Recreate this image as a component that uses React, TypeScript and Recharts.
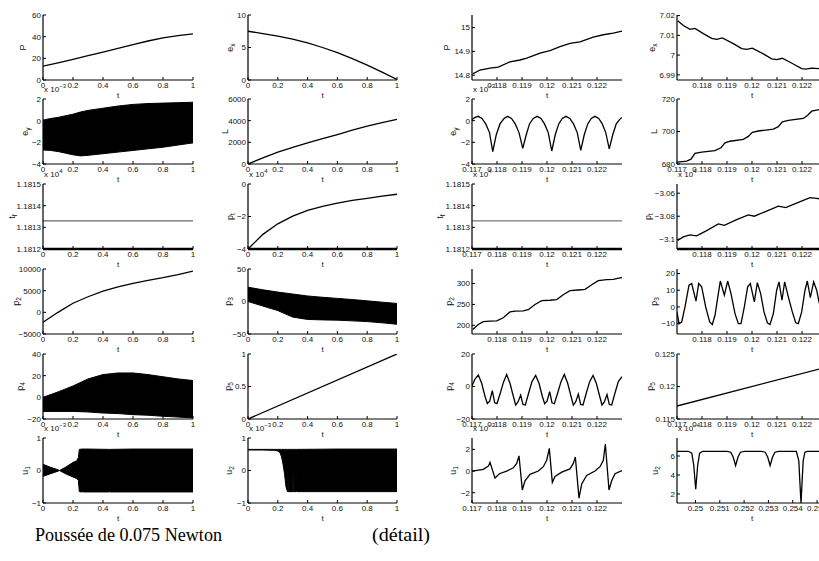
import React from "react";
import { ComposedChart, Line, Area, XAxis, YAxis } from "recharts";

const FONT = '"Liberation Sans", Arial, Helvetica, sans-serif';

// ---------- full run, t from 0 to 1 ----------
const tFull = [0, 0.1, 0.2, 0.3, 0.4, 0.5, 0.6, 0.7, 0.8, 0.9, 1];
const tEnds = [0, 1];
const ticksFull = [0, 0.2, 0.4, 0.6, 0.8, 1];

const pFull = [12.8, 15.8, 19, 22.4, 25.8, 29.3, 32.7, 36, 38.8, 41, 42.5];
const exFull = [7.5, 7.15, 6.75, 6.3, 5.7, 5.0, 4.2, 3.3, 2.3, 1.2, 0.1];
const lFull = [0, 560, 1090, 1530, 1940, 2340, 2720, 3120, 3500, 3820, 4120];
const tfFull = [1.18133, 1.18133];
const ptFull = [-4, -3.1, -2.45, -1.98, -1.63, -1.38, -1.18, -1.01, -0.88, -0.74, -0.63];
const p2Full = [-2300, 0, 2100, 3600, 4900, 5900, 6700, 7400, 8000, 8700, 9500];
const p5Full = [0, 1];

// envelopes (lower / upper) of the fast oscillations
const eyT = [0, 0.05, 0.1, 0.15, 0.2, 0.25, 0.3, 0.4, 0.5, 0.6, 0.7, 0.8, 0.9, 1];
const eyHi = [0.05, 0.2, 0.3, 0.45, 0.6, 0.8, 0.95, 1.15, 1.35, 1.5, 1.58, 1.62, 1.66, 1.7];
const eyLo = [-2.7, -2.75, -2.85, -3.0, -3.15, -3.25, -3.2, -3.05, -2.9, -2.75, -2.6, -2.45, -2.25, -2.05];

const p4Hi = [0, 5, 10.5, 17, 21, 22.5, 22.5, 21, 19, 17, 15.5];
const p4Lo = [-13, -13, -13, -13.5, -14.5, -15, -16, -16.5, -17.5, -18.2, -19];

const p3Hi = [22, 18, 14.5, 11.5, 8.5, 6.5, 4.8, 3, 1, -1, -3];
const p3Lo = [0, -7, -14, -24, -27.6, -28.3, -28.7, -29.8, -30.9, -32.8, -35];

const u1T = [0, 0.05, 0.1, 0.11, 0.15, 0.2, 0.225, 0.236, 0.242, 0.26, 0.262, 0.264, 0.3, 0.44, 0.442, 0.444, 0.6, 0.8, 1];
const u1Hi = [0.19, 0.1, 0.02, 0, 0.1, 0.25, 0.3, 0.4, 0.65, 0.66, 0.66, 0.66, 0.66, 0.65, 0.65, 0.65, 0.66, 0.66, 0.66];
const u1Lo = [-0.18, -0.1, -0.02, 0, -0.1, -0.2, -0.25, -0.3, -0.65, -0.66, -0.5, -0.66, -0.66, -0.66, -0.45, -0.66, -0.66, -0.66, -0.66];

const u2T = [0, 0.1, 0.18, 0.2, 0.215, 0.225, 0.235, 0.245, 0.255, 0.265, 0.266, 0.268, 0.27, 0.3, 0.302, 0.304, 0.322, 0.324, 0.326, 0.6, 1];
const u2Hi = [0.65, 0.65, 0.65, 0.65, 0.65, 0.65, 0.65, 0.65, 0.65, 0.65, 0.65, 0.65, 0.65, 0.65, 0.65, 0.65, 0.65, 0.65, 0.65, 0.66, 0.66];
const u2Lo = [0.63, 0.63, 0.62, 0.6, 0.55, 0.42, 0.2, -0.1, -0.5, -0.65, -0.65, 0.05, -0.65, -0.65, 0.05, -0.65, -0.65, 0.05, -0.65, -0.65, -0.65];

// ---------- detail, t from 0.117 to 0.123 ----------
const dDom: [number, number] = [0.117, 0.123];
const dEnds = [0.117, 0.123];
const ticksDA = [0.117, 0.118, 0.119, 0.12, 0.121, 0.122];
const ticksDB = [0.118, 0.119, 0.12, 0.121, 0.122];

const pDetT = [0.11703, 0.11732, 0.11772, 0.11805, 0.11852, 0.11892, 0.11919, 0.11972, 0.12012, 0.12052, 0.12092, 0.12132, 0.12185, 0.12225, 0.12265, 0.123];
const pDetV = [14.806, 14.822, 14.83, 14.834, 14.856, 14.864, 14.872, 14.893, 14.903, 14.92, 14.934, 14.94, 14.96, 14.97, 14.977, 14.985];

const eyDetT = [0.117, 0.11712, 0.11725, 0.1174, 0.11755, 0.1177, 0.11783, 0.11797, 0.11812, 0.11828, 0.11843, 0.11858, 0.11873, 0.11888, 0.11903, 0.11917, 0.1193, 0.11945, 0.11961, 0.11976, 0.1199, 0.12005, 0.12019, 0.12033, 0.12047, 0.12061, 0.12076, 0.12091, 0.12106, 0.12121, 0.12135, 0.12149, 0.12163, 0.12177, 0.12192, 0.12207, 0.12221, 0.12235, 0.12249, 0.12263, 0.12277, 0.1229, 0.123];
const eyDetV = [0.1, 0.3, 0.4, 0.2, -0.3, -1.1, -2.85, -1.3, -0.3, 0.2, 0.4, 0.2, -0.3, -1.1, -2.55, -1.3, -0.3, 0.2, 0.4, 0.2, -0.3, -1.1, -2.8, -1.3, -0.3, 0.2, 0.4, 0.2, -0.3, -1.1, -2.75, -1.3, -0.3, 0.2, 0.4, 0.2, -0.3, -1.1, -2.6, -1.3, -0.3, 0.1, 0.3];

const tfDet = [1.18133, 1.18133];

const p2DetT = [0.11703, 0.11725, 0.11745, 0.11772, 0.11799, 0.11825, 0.11852, 0.11872, 0.11905, 0.11925, 0.11952, 0.11979, 0.12012, 0.12039, 0.12065, 0.12092, 0.12125, 0.12152, 0.12179, 0.12205, 0.12239, 0.12265, 0.12292, 0.123];
const p2DetV = [190, 202, 209, 210, 210.5, 218, 232, 234, 234.5, 237.5, 250, 259, 260, 261.5, 273, 283, 284.5, 286, 297, 307, 309.5, 310, 313.5, 314];

const p4DetT = [0.117, 0.11712, 0.117253, 0.117387, 0.11752, 0.117613, 0.117707, 0.117813, 0.117907, 0.118, 0.118133, 0.118267, 0.118387, 0.11852, 0.118653, 0.118747, 0.11884, 0.118947, 0.11904, 0.119133, 0.119267, 0.1194, 0.119547, 0.11968, 0.119813, 0.119907, 0.12, 0.120107, 0.1202, 0.120293, 0.120427, 0.12056, 0.120693, 0.120827, 0.12096, 0.121053, 0.121147, 0.121253, 0.121347, 0.12144, 0.121573, 0.121707, 0.12184, 0.121973, 0.122107, 0.1222, 0.122293, 0.1224, 0.122493, 0.122587, 0.12272, 0.122853, 0.123];
const p4DetV = [0.5, 4.5, 7, 2, -6, -10.5, -9, -2.5, -10, -10.5, -4, 3, 7.4, 2, -6, -11.4, -9.5, -5.3, -11, -11.4, -4, 3, 6.8, 2, -6, -10.6, -9, -3.2, -10, -10.6, -4, 3, 7.4, 2, -6, -11.4, -9.5, -4.7, -11, -11.4, -4, 3, 6.8, 2, -6, -11.4, -9.5, -5, -11, -11.4, -4, 3, 6];

const u1DetT = [0.117, 0.117453, 0.117653, 0.11772, 0.11792, 0.118093, 0.118387, 0.118653, 0.118787, 0.11888, 0.119013, 0.11912, 0.11932, 0.119653, 0.119853, 0.119987, 0.120093, 0.120213, 0.12032, 0.120587, 0.12092, 0.121053, 0.121133, 0.12128, 0.121387, 0.121587, 0.12192, 0.12212, 0.122253, 0.122333, 0.12248, 0.122587, 0.12272, 0.123];
const u1DetV = [0, 0.15, 0.45, 0.8, -0.65, -0.25, 0, 0.3, 0.7, 1.4, -1.75, -0.9, -0.3, 0, 0.4, 1, 2.1, -1.05, -0.5, -0.1, 0.2, 0.7, 1.3, -2.5, -1.2, -0.4, 0, 0.4, 1, 2.5, -1.75, -0.9, -0.25, 0.05];

const exDetT = [0.117027, 0.117253, 0.11752, 0.11772, 0.118053, 0.118387, 0.118587, 0.118813, 0.119253, 0.119587, 0.119787, 0.120013, 0.120453, 0.120787, 0.120987, 0.121213, 0.121653, 0.121987, 0.122147, 0.122387, 0.12268, 0.123];
const exDetV = [7.0174, 7.015, 7.013, 7.0135, 7.0109, 7.0085, 7.008, 7.0087, 7.0058, 7.0033, 7.0029, 7.0035, 7.0006, 6.9981, 6.9977, 6.9984, 6.9955, 6.9932, 6.9929, 6.9934, 6.9932, 6.9926];

const lDetT = [0.117027, 0.117387, 0.11756, 0.11772, 0.117987, 0.11852, 0.11876, 0.11892, 0.11912, 0.119653, 0.119853, 0.120013, 0.120253, 0.120853, 0.121053, 0.121213, 0.121453, 0.122053, 0.122227, 0.122387, 0.12268, 0.123];
const lDetV = [681.2, 681.8, 683, 686.5, 687.3, 688.2, 690, 693, 694, 695.2, 697, 699.5, 700.3, 701.5, 703, 706, 706.8, 708, 710, 712.5, 713.5, 714.5];

const ptDetT = [0.117027, 0.117253, 0.11752, 0.117787, 0.118187, 0.118653, 0.118893, 0.119387, 0.119853, 0.120093, 0.120587, 0.121053, 0.121347, 0.121853, 0.12232, 0.122587, 0.123];
const ptDetV = [-3.101, -3.098, -3.0962, -3.097, -3.0925, -3.0867, -3.088, -3.083, -3.0788, -3.08, -3.0755, -3.0713, -3.0725, -3.068, -3.0638, -3.0645, -3.066];

const p3DetT = [0.117, 0.11708, 0.117187, 0.11732, 0.11748, 0.117587, 0.11776, 0.117867, 0.117987, 0.118147, 0.118307, 0.118413, 0.11852, 0.118653, 0.118733, 0.118893, 0.119027, 0.11916, 0.11932, 0.119453, 0.11956, 0.119693, 0.119827, 0.119933, 0.120093, 0.120213, 0.120347, 0.12048, 0.120613, 0.12072, 0.120853, 0.120987, 0.12108, 0.1212, 0.121307, 0.121453, 0.121613, 0.121747, 0.121853, 0.121987, 0.12212, 0.122213, 0.122333, 0.122467, 0.122587, 0.12268, 0.122853, 0.123];
const p3DetV = [-3, -10, -9, 0, 13, 14, 3.5, 14, 12, 0, -9, -10.5, -5, 8, 15.5, 7, 15.5, 8, -4, -10, -10, 0, 12, 14, 3, 14.5, 8, -3, -9.5, -10.5, -4, 10, 15, 4, 15, 6, -3, -9.5, -10, -3, 10, 15.5, 5.5, 15, 10, 3, -5, -9];

const p5Det = [0.117, 0.123];

// u2 detail uses its own window
const u2DetDom: [number, number] = [0.24924, 0.25541];
const u2DetTicks = [0.25, 0.251, 0.252, 0.253, 0.254, 0.255];
const u2DetT = [0.24924, 0.2497, 0.24985, 0.24993, 0.25001, 0.25009, 0.25017, 0.2503, 0.2513, 0.25145, 0.25155, 0.25165, 0.25175, 0.25185, 0.252, 0.25272, 0.25287, 0.25297, 0.25307, 0.25317, 0.25327, 0.25342, 0.25415, 0.25425, 0.2543, 0.25434, 0.25438, 0.25443, 0.2545, 0.2546, 0.25541];
const u2DetV = [6.5, 6.5, 6.3, 5.0, 2.5, 5.0, 6.3, 6.5, 6.5, 6.4, 5.9, 5.0, 5.9, 6.4, 6.5, 6.5, 6.4, 5.9, 5.0, 5.9, 6.4, 6.5, 6.5, 5.5, 3.0, 1.05, 3.0, 5.5, 6.4, 6.5, 6.5];

// ---------- layout ----------
const COL_X = [43, 248, 472, 677];
const COL_W = [150, 149, 150, 150];
const ROW_Y = [15, 99, 184, 269, 354, 438];
const PH = 65;
const ML = 40;
const MT = 18;
const MR = 3;
const MB = 28;

type PanelDef = {
  col: number;
  row: number;
  xDomain: [number, number];
  xTicks: number[];
  yDomain: [number, number];
  yTicks: number[];
  name: string;
  sub?: string;
  dx: number;
  exp?: string;
  t: number[];
  v?: number[];
  lo?: number[];
  hi?: number[];
  color?: string;
};

const full: [number, number] = [0, 1];

const panels: PanelDef[] = [
  // column 1
  { col: 0, row: 0, xDomain: full, xTicks: ticksFull, yDomain: [0, 60], yTicks: [0, 20, 40, 60], name: "P", dx: -20, t: tFull, v: pFull },
  { col: 0, row: 1, xDomain: full, xTicks: ticksFull, yDomain: [-4, 2], yTicks: [-4, -2, 0, 2], name: "e", sub: "y", dx: -18, exp: "\u22123", t: eyT, lo: eyLo, hi: eyHi },
  { col: 0, row: 2, xDomain: full, xTicks: ticksFull, yDomain: [1.1812, 1.1815], yTicks: [1.1812, 1.1813, 1.1814, 1.1815], name: "t", sub: "f", dx: -31, exp: "4", t: tEnds, v: tfFull, color: "#666" },
  { col: 0, row: 3, xDomain: full, xTicks: ticksFull, yDomain: [-5000, 10000], yTicks: [-5000, 0, 5000, 10000], name: "p", sub: "2", dx: -27, t: tFull, v: p2Full },
  { col: 0, row: 4, xDomain: full, xTicks: ticksFull, yDomain: [-20, 40], yTicks: [-20, 0, 20, 40], name: "p", sub: "4", dx: -23, t: tFull, lo: p4Lo, hi: p4Hi },
  { col: 0, row: 5, xDomain: full, xTicks: ticksFull, yDomain: [-1, 1], yTicks: [-1, 0, 1], name: "u", sub: "1", dx: -18, exp: "\u22123", t: u1T, lo: u1Lo, hi: u1Hi },
  // column 2
  { col: 1, row: 0, xDomain: full, xTicks: ticksFull, yDomain: [0, 10], yTicks: [0, 5, 10], name: "e", sub: "x", dx: -18, t: tFull, v: exFull },
  { col: 1, row: 1, xDomain: full, xTicks: ticksFull, yDomain: [0, 6000], yTicks: [0, 2000, 4000, 6000], name: "L", dx: -23, t: tFull, v: lFull },
  { col: 1, row: 2, xDomain: full, xTicks: ticksFull, yDomain: [-4, 0], yTicks: [-4, -2, 0], name: "p", sub: "t", dx: -18, exp: "4", t: tFull, v: ptFull },
  { col: 1, row: 3, xDomain: full, xTicks: ticksFull, yDomain: [-50, 50], yTicks: [-50, 0, 50], name: "p", sub: "3", dx: -20, t: tFull, lo: p3Lo, hi: p3Hi },
  { col: 1, row: 4, xDomain: full, xTicks: ticksFull, yDomain: [0, 1], yTicks: [0, 0.5, 1], name: "p", sub: "5", dx: -20, t: tEnds, v: p5Full },
  { col: 1, row: 5, xDomain: full, xTicks: ticksFull, yDomain: [-1, 1], yTicks: [-1, 0, 1], name: "u", sub: "2", dx: -19, exp: "\u22123", t: u2T, lo: u2Lo, hi: u2Hi },
  // column 3 (detail)
  { col: 2, row: 0, xDomain: dDom, xTicks: ticksDB, yDomain: [14.78, 15.053], yTicks: [14.8, 14.9, 15], name: "P", dx: -25, t: pDetT, v: pDetV },
  { col: 2, row: 1, xDomain: dDom, xTicks: ticksDA, yDomain: [-4, 2], yTicks: [-4, -2, 0, 2], name: "e", sub: "y", dx: -19, exp: "\u22123", t: eyDetT, v: eyDetV },
  { col: 2, row: 2, xDomain: dDom, xTicks: ticksDA, yDomain: [1.1812, 1.1815], yTicks: [1.1812, 1.1813, 1.1814, 1.1815], name: "t", sub: "f", dx: -32, exp: "4", t: dEnds, v: tfDet, color: "#777" },
  { col: 2, row: 3, xDomain: dDom, xTicks: ticksDB, yDomain: [179.3, 334.7], yTicks: [200, 250, 300], name: "p", sub: "2", dx: -23, t: p2DetT, v: p2DetV },
  { col: 2, row: 4, xDomain: dDom, xTicks: ticksDA, yDomain: [-20, 20], yTicks: [-20, 0, 20], name: "p", sub: "4", dx: -23, t: p4DetT, v: p4DetV },
  { col: 2, row: 5, xDomain: dDom, xTicks: ticksDA, yDomain: [-2.95, 3.05], yTicks: [-2, 0, 2], name: "u", sub: "1", dx: -19, exp: "\u22123", t: u1DetT, v: u1DetV },
  // column 4 (detail)
  { col: 3, row: 0, xDomain: dDom, xTicks: ticksDB, yDomain: [6.9874, 7.0203], yTicks: [6.99, 7, 7.01, 7.02], name: "e", sub: "x", dx: -25, t: exDetT, v: exDetV },
  { col: 3, row: 1, xDomain: dDom, xTicks: ticksDA, yDomain: [680, 720], yTicks: [680, 700, 720], name: "L", dx: -23, t: lDetT, v: lDetV },
  { col: 3, row: 2, xDomain: dDom, xTicks: ticksDB, yDomain: [-3.1085, -3.052], yTicks: [-3.1, -3.08, -3.06], name: "p", sub: "t", dx: -29, exp: "4", t: ptDetT, v: ptDetV },
  { col: 3, row: 3, xDomain: dDom, xTicks: ticksDB, yDomain: [-16.2, 22.7], yTicks: [-10, 0, 10, 20], name: "p", sub: "3", dx: -23, t: p3DetT, v: p3DetV },
  { col: 3, row: 4, xDomain: dDom, xTicks: ticksDA, yDomain: [0.115, 0.125], yTicks: [0.115, 0.12, 0.125], name: "p", sub: "5", dx: -27, t: dEnds, v: p5Det },
  { col: 3, row: 5, xDomain: u2DetDom, xTicks: u2DetTicks, yDomain: [1.05, 7.9], yTicks: [2, 4, 6], name: "u", sub: "2", dx: -22, exp: "\u22124", t: u2DetT, v: u2DetV },
];

const fmt = (v: number) => String(v).replace("-", "\u2212");
const tickStyle = { fontSize: 8, fill: "#111", fontFamily: FONT };
const txt = { fill: "#111", stroke: "none" };

function Panel({ d }: { d: PanelDef }) {
  const w = COL_W[d.col];
  const W = ML + w + MR;
  const H = MT + PH + MB;
  const thick = d.row === 2 ? 2.6 : 1.2;
  const data = d.t.map((t, i) =>
    d.v ? { t, v: d.v[i] } : { t, band: [d.lo![i], d.hi![i]] }
  );
  const cx = ML + d.dx + 3;
  const cy = MT + PH / 2;
  const yLabel = () => (
    <g>
      <text
        x={cx}
        y={cy}
        transform={`rotate(-90 ${cx} ${cy})`}
        textAnchor="middle"
        fontSize={9}
        fontFamily={FONT}
        style={txt}
      >
        {d.name}
        {d.sub && (
          <tspan fontSize={6.5} dy={2}>
            {d.sub}
          </tspan>
        )}
      </text>
      {d.exp && (
        <text x={ML + 1} y={MT - 7} fontSize={8} fontFamily={FONT} style={txt}>
          x 10
          <tspan fontSize={6} dy={-4}>
            {d.exp}
          </tspan>
        </text>
      )}
    </g>
  );
  const xLabel = () => (
    <text x={ML + w / 2} y={MT + PH + 18} textAnchor="middle" fontSize={8} fontFamily={FONT} style={txt}>
      t
    </text>
  );
  return (
    <div style={{ position: "absolute", left: COL_X[d.col] - ML, top: ROW_Y[d.row] - MT }}>
      <ComposedChart width={W} height={H} data={data} margin={{ top: MT, right: MR, bottom: 0, left: 0 }}>
        <XAxis
          xAxisId="b"
          dataKey="t"
          type="number"
          domain={d.xDomain}
          allowDataOverflow
          ticks={d.xTicks}
          interval={0}
          tickFormatter={fmt}
          tick={tickStyle}
          tickSize={-3}
          tickMargin={5}
          height={MB}
          axisLine={{ stroke: "#000", strokeWidth: thick }}
          tickLine={{ stroke: "#000" }}
          label={xLabel}
        />
        <XAxis
          xAxisId="tp"
          orientation="top"
          dataKey="t"
          type="number"
          domain={d.xDomain}
          allowDataOverflow
          ticks={d.xTicks}
          interval={0}
          tick={false}
          tickSize={-3}
          height={0}
          axisLine={{ stroke: "#000", strokeWidth: thick }}
          tickLine={{ stroke: "#000" }}
        />
        <YAxis
          yAxisId="l"
          type="number"
          domain={d.yDomain}
          allowDataOverflow
          ticks={d.yTicks}
          interval={0}
          tickFormatter={fmt}
          tick={tickStyle}
          tickSize={-3}
          tickMargin={5}
          width={ML}
          axisLine={{ stroke: "#000", strokeWidth: 1.2 }}
          tickLine={{ stroke: "#000" }}
          label={yLabel}
        />
        <YAxis
          yAxisId="r"
          orientation="right"
          type="number"
          domain={d.yDomain}
          allowDataOverflow
          ticks={d.yTicks}
          interval={0}
          tick={false}
          tickSize={-3}
          width={0}
          axisLine={{ stroke: "#000", strokeWidth: 1.2 }}
          tickLine={{ stroke: "#000" }}
        />
        {d.v ? (
          <Line
            xAxisId="b"
            yAxisId="l"
            dataKey="v"
            type="linear"
            stroke={d.color || "#000"}
            strokeWidth={1.3}
            dot={false}
            isAnimationActive={false}
          />
        ) : (
          <Area
            xAxisId="b"
            yAxisId="l"
            dataKey="band"
            type="linear"
            stroke="#000"
            strokeWidth={1}
            fill="#000"
            fillOpacity={1}
            dot={false}
            isAnimationActive={false}
          />
        )}
      </ComposedChart>
    </div>
  );
}

export default function App() {
  return (
    <div
      style={{
        position: "absolute",
        left: 0,
        top: 0,
        width: 819,
        height: 561,
        overflow: "hidden",
        background: "#fff",
      }}
    >
      {panels.map((d, i) => (
        <Panel key={i} d={d} />
      ))}
      <svg width={819} height={561} style={{ position: "absolute", left: 0, top: 0, pointerEvents: "none" }}>
        <text x={35} y={541} fontSize={19} fontFamily='"Liberation Serif", "Times New Roman", serif' textLength={187} lengthAdjust="spacingAndGlyphs" fill="#000">
          Poussée de 0.075 Newton
        </text>
        <text x={372} y={541} fontSize={19} fontFamily='"Liberation Serif", "Times New Roman", serif' textLength={58} lengthAdjust="spacingAndGlyphs" fill="#000">
          (détail)
        </text>
      </svg>
    </div>
  );
}
